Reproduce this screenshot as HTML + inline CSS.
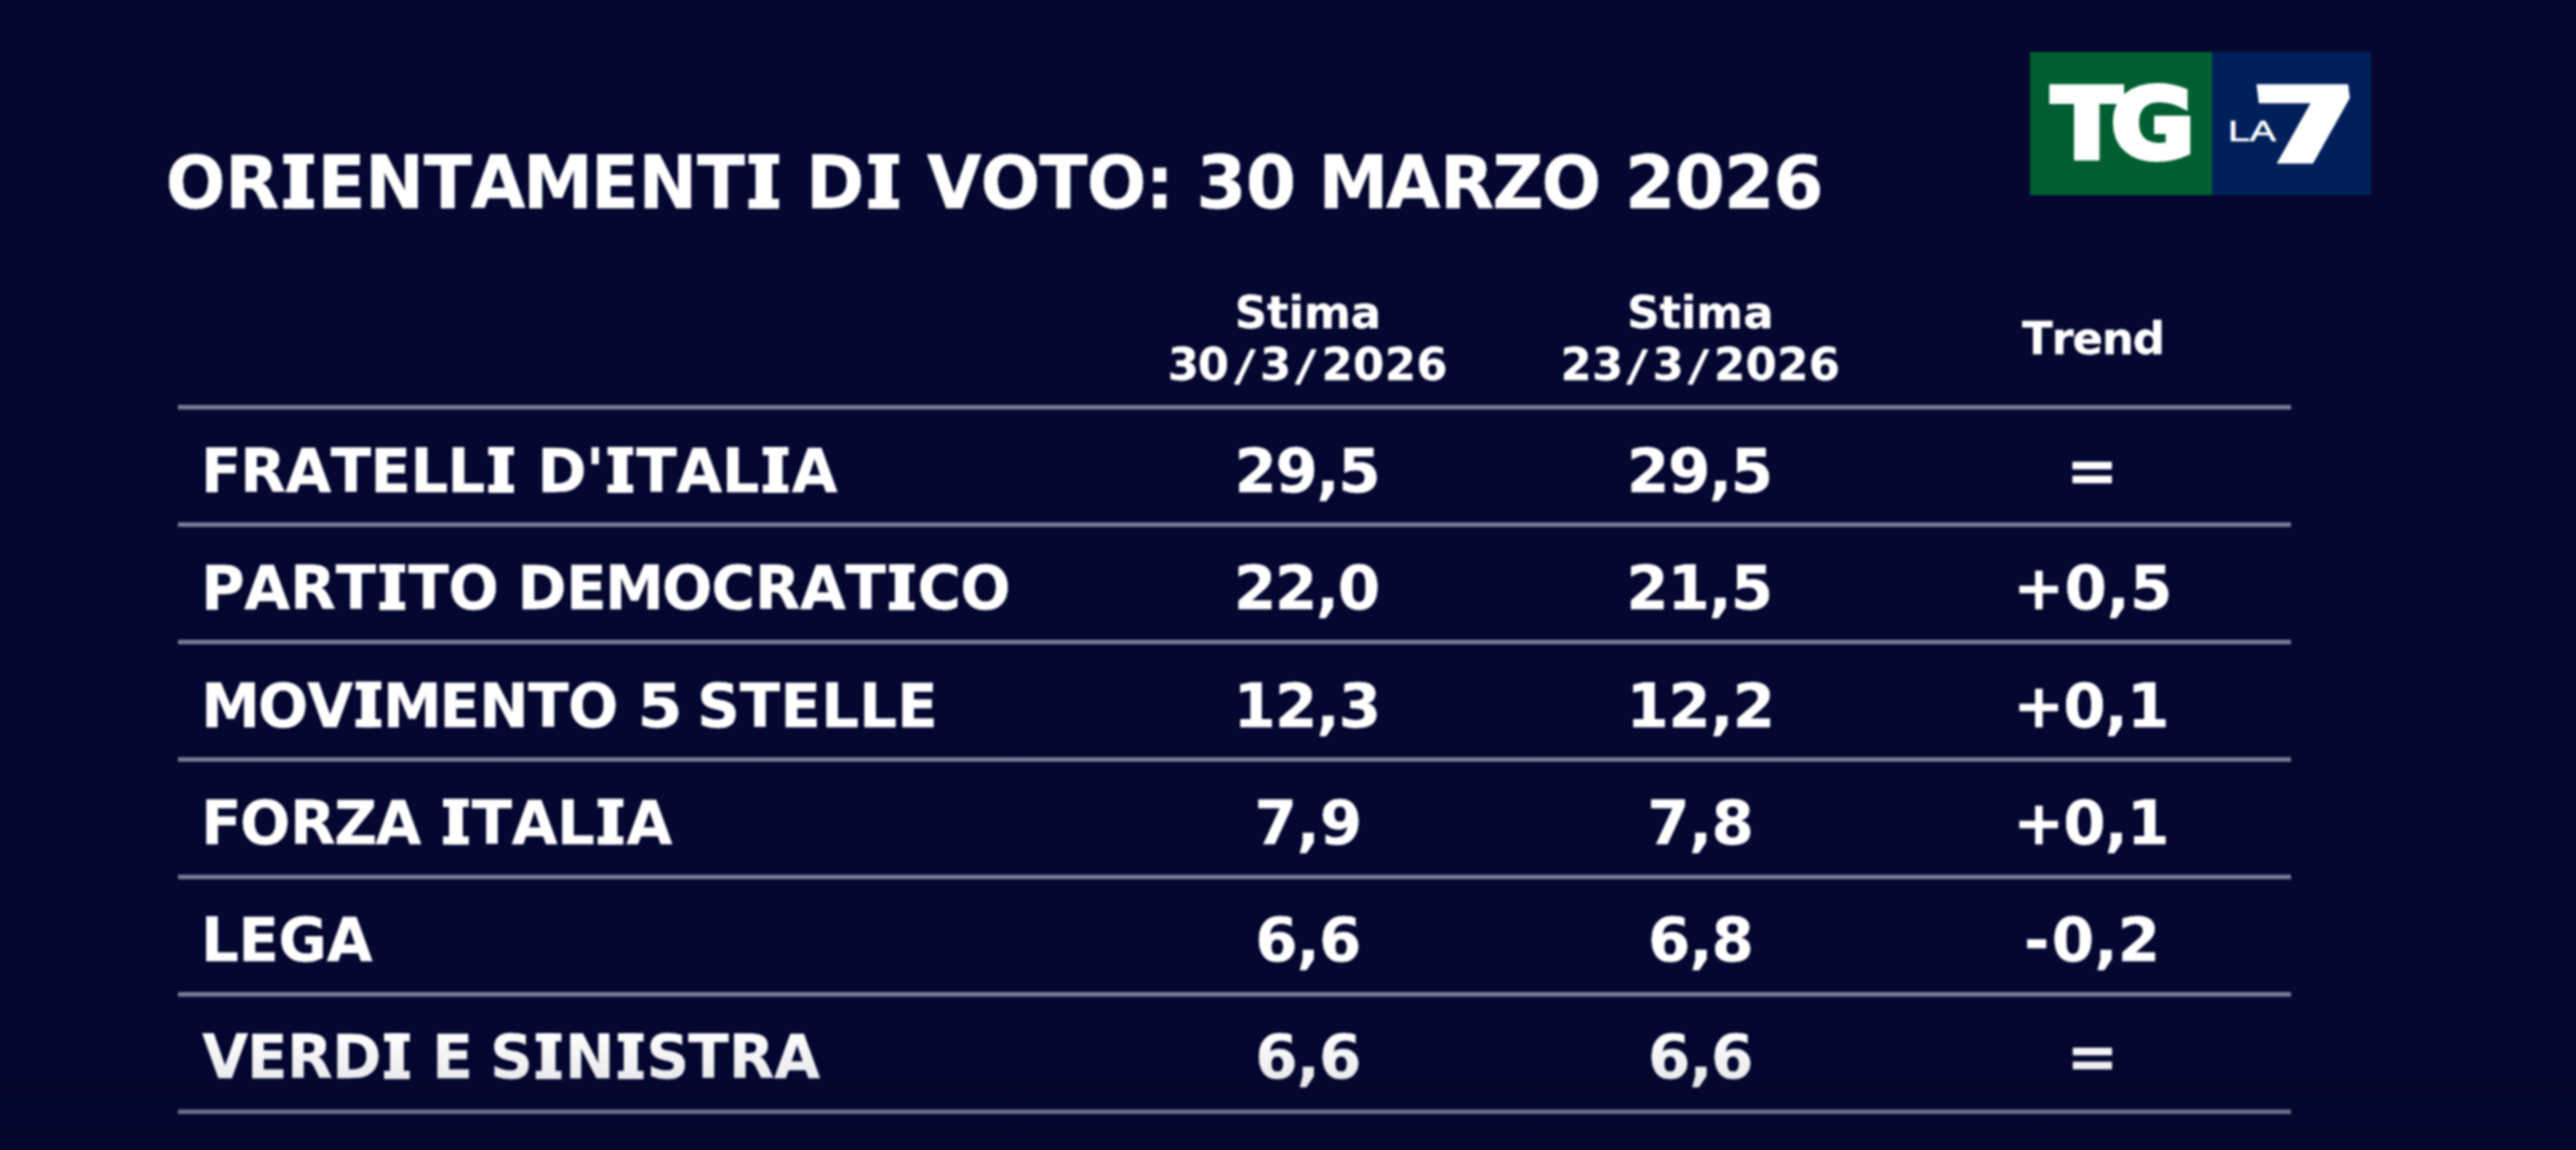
<!DOCTYPE html>
<html lang="it">
<head>
<meta charset="utf-8">
<title>Orientamenti di voto: 30 marzo 2026</title>
<style>
html,body{margin:0;padding:0;}
body{width:2576px;height:1150px;overflow:hidden;background:#040830;position:relative;
  font-family:"DejaVu Sans","Liberation Sans",sans-serif;font-weight:bold;color:#fff;}
#stage{position:absolute;left:0;top:0;width:2576px;height:1150px;filter:blur(1px);}
.blk{position:absolute;left:0;top:0;width:2576px;height:0;margin:0;padding:0;font-size:0;line-height:0;}
svg.tx{position:absolute;left:0;top:0;overflow:visible;fill:#fff;stroke:#fff;
  font-family:"DejaVu Sans","Liberation Sans",sans-serif;font-weight:bold;font-kerning:none;}
svg.tx text{white-space:pre;}
svg.tx rect{stroke:none;}
.hl{position:absolute;left:178px;width:2113px;height:10px;}
#fade{position:absolute;left:0;top:1030px;width:2576px;height:120px;pointer-events:none;
  background:linear-gradient(to bottom,rgba(3,6,40,0) 0%,rgba(3,6,40,0.2) 100%);}
#logo{position:absolute;left:2030px;top:51.5px;width:341px;height:143.5px;overflow:hidden;}
#logo .g{position:absolute;left:0;top:0;width:182px;height:100%;background:#005f30;}
#logo .b{position:absolute;left:182px;top:0;width:159px;height:100%;background:#00205c;}
#logo span{position:absolute;line-height:1;white-space:nowrap;color:#fff;transform-origin:0 0;}
#tg{left:21.5px;top:24px;font-size:97px;letter-spacing:-10px;-webkit-text-stroke:6px #fff;transform:scaleX(1.05);}
#la{left:198px;top:65px;font-size:29px;font-weight:normal;font-family:"Liberation Sans",sans-serif;transform:scaleX(1.35);-webkit-text-stroke:0.6px #fff;}
#seven{left:219px;top:23px;font-size:102px;-webkit-text-stroke:5px #fff;transform:skewX(7deg) scaleX(1.5);}
</style>
</head>
<body>
<div id="stage">
<div id="logo">
  <div class="g"></div><div class="b"></div>
  <span id="tg">TG</span>
  <span id="la">LA</span>
  <span id="seven">7</span>
</div>
<h1 class="blk" id="title">
<svg class="tx" width="2576" height="1150" font-size="72.5" stroke-width="0.51">
  <g transform="translate(165.7,207.8) scale(0.97,1)"><text x="-0.01 61.36 123.55 156.47 205.68 266.02 314.77 368.47 438.19 487.39 547.74 603.13">ORIENTAMENTI</text><rect x="121.27" y="-53.72" width="31.54" height="9.93"/><rect x="128.48" y="-52.85" width="17.11" height="52.85"/><rect x="121.27" y="-9.06" width="31.54" height="9.93"/><rect x="600.84" y="-53.72" width="31.54" height="9.93"/><rect x="608.06" y="-52.85" width="17.11" height="52.85"/><rect x="600.84" y="-9.06" width="31.54" height="9.93"/></g>
  <g transform="translate(806,207.8) scale(0.97,1)"><text x="0 66.69">DI</text><rect x="64.4" y="-53.72" width="31.54" height="9.93"/><rect x="71.62" y="-52.85" width="17.11" height="52.85"/><rect x="64.4" y="-9.06" width="31.54" height="9.93"/></g>
  <g transform="translate(927.32,207.8) scale(0.97,1)"><text x="-0.32 54.73 115.6 164.31 225.18">VOTO:</text></g>
  <g transform="translate(1196.2,207.8)"><text x="-0.01 49.52">30</text></g>
  <g transform="translate(1320.2,207.8) scale(0.97,1)"><text x="-1.75 67.78 123.44 177.58 228.05">MARZO</text></g>
  <g transform="translate(1625,207.8)"><text x="0 49.44 98.89 148.33">2026</text></g>
</svg>
</h1>
<div class="blk hdr">
<svg class="tx" width="2576" height="1150" font-size="45" stroke-width="0.32">
  <g transform="translate(1234.71,327.8)"><text x="-0.01 32.35 53.82 69.2 116.04">Stima</text></g>
  <g transform="translate(0,380)"><text x="1167.77 1197.86 1234.86 1259.98 1295.42 1321.52 1353.12 1384.73 1416.34" rotate="0 0 8 0 8 0 0 0 0">30/3/2026</text></g>
</svg>
</div>
<div class="blk hdr">
<svg class="tx" width="2576" height="1150" font-size="45" stroke-width="0.32">
  <g transform="translate(1627.21,327.8)"><text x="-0.01 32.32 53.76 69.12 115.93">Stima</text></g>
  <g transform="translate(0,380)"><text x="1560.62 1592.03 1627.02 1652.48 1688.21 1714.02 1745.58 1777.16 1808.73" rotate="0 0 8 0 8 0 0 0 0">23/3/2026</text></g>
</svg>
</div>
<div class="blk hdr">
<svg class="tx" width="2576" height="1150" font-size="45" stroke-width="0.32">
  <g transform="translate(2022.06,353.8)"><text x="-0.01 29.5 50.5 79.85 110.71">Trend</text></g>
</svg>
</div>
<div class="hl" style="top:402px;background:linear-gradient(to bottom,rgba(124,127,150,0) 2.45px,rgb(124,127,150) 3.45px,rgb(124,127,150) 6.95px,rgba(124,127,150,0) 7.95px)"></div>
<div class="blk row">
<svg class="tx" width="2576" height="1150" font-size="61" stroke-width="0.43">
  <g transform="translate(202,492.1) scale(0.97,1)"><text x="-1 39.44 86.19 132.8 173.81 214.89 253.17 297.03">FRATELLI</text><rect x="295.11" y="-45.2" width="26.54" height="8.36"/><rect x="301.18" y="-44.47" width="14.4" height="44.47"/><rect x="295.11" y="-7.62" width="26.54" height="8.36"/></g>
  <g transform="translate(537.4,492.1) scale(0.97,1)"><text x="-0.01 50.26 74.13 102.05 143.29 190.13 234.21 262.13">D'ITALIA</text><rect x="72.21" y="-45.2" width="26.54" height="8.36"/><rect x="78.28" y="-44.47" width="14.4" height="44.47"/><rect x="72.21" y="-7.62" width="26.54" height="8.36"/><rect x="232.29" y="-45.2" width="26.54" height="8.36"/><rect x="238.36" y="-44.47" width="14.4" height="44.47"/><rect x="232.29" y="-7.62" width="26.54" height="8.36"/></g>
  <g transform="translate(1234.4,492.1)"><text x="-0.01 41.05 82.13 103.94">29,5</text></g>
  <g transform="translate(1626.9,492.1)"><text x="-0.01 41.05 82.13 103.94">29,5</text></g>
  <g transform="translate(2066.19,492.1) scale(1.0179,1)"><text x="0">=</text></g>
</svg>
</div>
<div class="hl" style="top:519px;background:linear-gradient(to bottom,rgba(124,127,150,0) 2.88px,rgb(124,127,150) 3.88px,rgb(124,127,150) 7.38px,rgba(124,127,150,0) 8.38px)"></div>
<div class="blk row">
<svg class="tx" width="2576" height="1150" font-size="61" stroke-width="0.43">
  <g transform="translate(201.3,609.4) scale(0.97,1)"><text x="0 44.39 91.67 138.7 185.57 213.56 254.86">PARTITO</text><rect x="183.65" y="-45.2" width="26.54" height="8.36"/><rect x="189.72" y="-44.47" width="14.4" height="44.47"/><rect x="183.65" y="-7.62" width="26.54" height="8.36"/></g>
  <g transform="translate(517.6,609.4) scale(0.97,1)"><text x="-0.01 50.18 89.99 148.82 199.96 244.37 291.27 338.04 384.81 412.37 456.42">DEMOCRATICO</text><rect x="382.88" y="-45.2" width="26.54" height="8.36"/><rect x="388.95" y="-44.47" width="14.4" height="44.47"/><rect x="382.88" y="-7.62" width="26.54" height="8.36"/></g>
  <g transform="translate(1234,609.4)"><text x="0 41 82.02 103.75">22,0</text></g>
  <g transform="translate(1626.3,609.4)"><text x="0 41.2 82.4 104.36">21,5</text></g>
  <g transform="translate(2013.3,609.4)"><text x="0 51.08 93.51 116.65">+0,5</text></g>
</svg>
</div>
<div class="hl" style="top:637px;background:linear-gradient(to bottom,rgba(124,127,150,0) 2.31px,rgb(124,127,150) 3.31px,rgb(124,127,150) 6.81px,rgba(124,127,150,0) 7.81px)"></div>
<div class="blk row">
<svg class="tx" width="2576" height="1150" font-size="61" stroke-width="0.43">
  <g transform="translate(202.72,726.6) scale(0.97,1)"><text x="-1.45 57 107.8 159.51 185.55 244 285.17 335.72 376.51">MOVIMENTO</text><rect x="157.59" y="-45.2" width="26.54" height="8.36"/><rect x="163.66" y="-44.47" width="14.4" height="44.47"/><rect x="157.59" y="-7.62" width="26.54" height="8.36"/></g>
  <g transform="translate(637.31,726.6) scale(1.0714,1)"><text x="-0.01">5</text></g>
  <g transform="translate(697.55,726.6) scale(0.97,1)"><text x="-0.3 43.64 85.54 127.51 166.67 205.84">STELLE</text></g>
  <g transform="translate(1233.6,726.6)"><text x="-0.01 41.49 83.01 105.24">12,3</text></g>
  <g transform="translate(1626.6,726.6)"><text x="-0.01 41.76 83.54 106.04">12,2</text></g>
  <g transform="translate(2013.2,726.6)"><text x="-0.01 50.1 91.55 113.74">+0,1</text></g>
</svg>
</div>
<div class="hl" style="top:754px;background:linear-gradient(to bottom,rgba(124,127,150,0) 2.74px,rgb(124,127,150) 3.74px,rgb(124,127,150) 7.24px,rgba(124,127,150,0) 8.24px)"></div>
<div class="blk row">
<svg class="tx" width="2576" height="1150" font-size="61" stroke-width="0.43">
  <g transform="translate(202.1,843.9) scale(0.97,1)"><text x="-1.01 39.02 90.6 136.26 178.82">FORZA</text></g>
  <g transform="translate(439.52,843.9) scale(0.97,1)"><text x="5.56 33.31 74.37 121.04 164.95 192.7">ITALIA</text><rect x="3.64" y="-45.2" width="26.54" height="8.36"/><rect x="9.71" y="-44.47" width="14.4" height="44.47"/><rect x="3.64" y="-7.62" width="26.54" height="8.36"/><rect x="163.03" y="-45.2" width="26.54" height="8.36"/><rect x="169.1" y="-44.47" width="14.4" height="44.47"/><rect x="163.03" y="-7.62" width="26.54" height="8.36"/></g>
  <g transform="translate(1254.39,843.9)"><text x="-0.01 42.28 65.31">7,9</text></g>
  <g transform="translate(1647.29,843.9)"><text x="-0.01 41.79 64.32">7,8</text></g>
  <g transform="translate(2013.2,843.9)"><text x="-0.01 50.1 91.55 113.74">+0,1</text></g>
</svg>
</div>
<div class="hl" style="top:871px;background:linear-gradient(to bottom,rgba(124,127,150,0) 3.17px,rgb(124,127,150) 4.17px,rgb(124,127,150) 7.67px,rgba(124,127,150,0) 8.67px)"></div>
<div class="blk row">
<svg class="tx" width="2576" height="1150" font-size="61" stroke-width="0.43">
  <g transform="translate(201.1,961.1) scale(0.97,1)"><text x="-0.01 38.68 79.9 129.51">LEGA</text></g>
  <g transform="translate(1255.2,961.1)"><text x="-0.01 41.52 63.8">6,6</text></g>
  <g transform="translate(1648.1,961.1)"><text x="-0.01 41.38 63.51">6,8</text></g>
  <g transform="translate(2021.9,961.1)"><text x="2.12 29.83 72.54 95.97">-0,2</text></g>
</svg>
</div>
<div class="hl" style="top:989px;background:linear-gradient(to bottom,rgba(124,127,150,0) 2.60px,rgb(124,127,150) 3.60px,rgb(124,127,150) 7.10px,rgba(124,127,150,0) 8.10px)"></div>
<div class="blk row">
<svg class="tx" width="2576" height="1150" font-size="61" stroke-width="0.43">
  <g transform="translate(202.53,1078.4) scale(0.97,1)"><text x="-0.28 45.88 87.11 133.64 189.05">VERDI</text><rect x="187.13" y="-45.2" width="26.54" height="8.36"/><rect x="193.2" y="-44.47" width="14.4" height="44.47"/><rect x="187.13" y="-7.62" width="26.54" height="8.36"/></g>
  <g transform="translate(432.31,1078.4) scale(0.9788,1)"><text x="-0.01">E</text></g>
  <g transform="translate(490.55,1078.4) scale(0.97,1)"><text x="-0.3 48.48 76.65 133.15 160.73 203.95 245.51 292.43">SINISTRA</text><rect x="46.56" y="-45.2" width="26.54" height="8.36"/><rect x="52.63" y="-44.47" width="14.4" height="44.47"/><rect x="46.56" y="-7.62" width="26.54" height="8.36"/><rect x="131.23" y="-45.2" width="26.54" height="8.36"/><rect x="137.3" y="-44.47" width="14.4" height="44.47"/><rect x="131.23" y="-7.62" width="26.54" height="8.36"/></g>
  <g transform="translate(1255.2,1078.4)"><text x="-0.01 41.52 63.8">6,6</text></g>
  <g transform="translate(1648.1,1078.4)"><text x="-0.01 41.13 63.01">6,6</text></g>
  <g transform="translate(2066.61,1078.4) scale(1.0154,1)"><text x="0">=</text></g>
</svg>
</div>
<div class="hl" style="top:1106px;background:linear-gradient(to bottom,rgba(124,127,150,0) 3.03px,rgb(124,127,150) 4.03px,rgb(124,127,150) 7.53px,rgba(124,127,150,0) 8.53px)"></div>
</div>
<div id="fade"></div>
</body>
</html>
